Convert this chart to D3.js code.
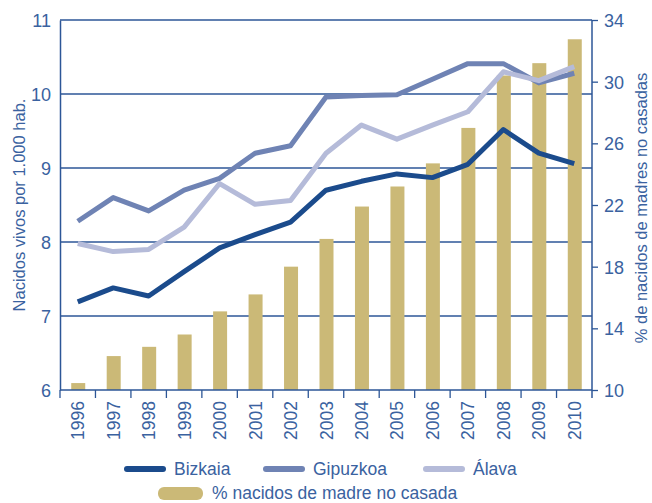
<!DOCTYPE html>
<html>
<head>
<meta charset="utf-8">
<script src="https://cdn.jsdelivr.net/npm/d3@7"></script>
<style>
  body { margin: 0; background: #fff; }
  text { font-family: "Liberation Sans", Arial, sans-serif; fill: #3a62a0; }
</style>
</head>
<body>
<svg id="chart" width="652" height="503"></svg>
<script>
const years = ['1996', '1997', '1998', '1999', '2000', '2001', '2002', '2003', '2004', '2005', '2006', '2007', '2008', '2009', '2010']
const bizkaia = [7.19, 7.38, 7.27, 7.6, 7.92, 8.1, 8.27, 8.7, 8.82, 8.92, 8.87, 9.05, 9.52, 9.2, 9.06]
const gipuzkoa = [8.28, 8.6, 8.42, 8.7, 8.86, 9.2, 9.3, 9.96, 9.98, 9.99, 10.2, 10.41, 10.41, 10.15, 10.28]
const alava = [7.98, 7.87, 7.9, 8.2, 8.79, 8.51, 8.56, 9.2, 9.58, 9.39, 9.58, 9.76, 10.3, 10.18, 10.37]
const noCasada = [10.45, 12.2, 12.8, 13.6, 15.1, 16.2, 18.0, 19.8, 21.9, 23.2, 24.7, 27.0, 30.4, 31.2, 32.75]
const leftTicks = [6, 7, 8, 9, 10, 11]
const rightTicks = [10, 14, 18, 22, 26, 30, 34]

const axisColor = '#2c5697'
const series = [
  { name: 'Bizkaia', values: bizkaia, color: '#1b4b8c' },
  { name: 'Gipuzkoa', values: gipuzkoa, color: '#6f83b4' },
  { name: 'Álava', values: alava, color: '#b5bbd9' }
]
const barColor = '#cbb977'

const svg = d3.select('#chart')
const m = { left: 60, right: 592, top: 20, bottom: 390 }

const x = d3.scaleBand().domain(years).range([m.left, m.right])
const yL = d3.scaleLinear().domain([6, 11]).range([m.bottom, m.top])
const yR = d3.scaleLinear().domain([10, 34]).range([m.bottom, m.top])

// gridlines
svg.append('g')
  .selectAll('line')
  .data(leftTicks.slice(1))
  .enter()
  .append('line')
  .attr('x1', m.left)
  .attr('x2', m.right)
  .attr('y1', d => yL(d))
  .attr('y2', d => yL(d))
  .style('stroke', axisColor)
  .style('stroke-width', 1.3)

// bars
const bw = 14
svg.append('g')
  .selectAll('rect')
  .data(noCasada)
  .enter()
  .append('rect')
  .attr('x', (d, i) => x(years[i]) + x.bandwidth() / 2 - bw / 2 + 0.5)
  .attr('y', d => yR(d))
  .attr('width', bw)
  .attr('height', d => yR(10) - yR(d))
  .style('fill', barColor)

// lines
const line = d3.line()
  .x((d, i) => x(years[i]) + x.bandwidth() / 2)
  .y(d => yL(d))

svg.append('g')
  .selectAll('path')
  .data(series)
  .enter()
  .append('path')
  .attr('d', d => line(d.values))
  .style('fill', 'none')
  .style('stroke', d => d.color)
  .style('stroke-width', 5)
  .style('stroke-linejoin', 'round')

// left axis
const leftAxis = svg.append('g')
  .attr('transform', `translate(${m.left},0)`)
  .call(d3.axisLeft(yL).tickValues(leftTicks).tickSize(0).tickPadding(9).tickFormat(d3.format('d')))
leftAxis.select('.domain').style('stroke', axisColor).style('stroke-width', 1.5)
leftAxis.selectAll('text').style('font-size', '18px').attr('dy', '0.36em')

// right axis
const rightAxis = svg.append('g')
  .attr('transform', `translate(${m.right},0)`)
  .call(d3.axisRight(yR).tickValues(rightTicks).tickSize(6).tickPadding(6).tickFormat(d3.format('d')))
rightAxis.select('.domain').attr('d', `M0,${m.top}V${m.bottom + 8}`).style('stroke', axisColor).style('stroke-width', 1.5)
rightAxis.selectAll('line').style('stroke', axisColor).style('stroke-width', 1.3)
rightAxis.selectAll('text').style('font-size', '18px').attr('dy', '0.36em')

// bottom axis
svg.append('line')
  .attr('x1', m.left).attr('x2', m.right)
  .attr('y1', m.bottom).attr('y2', m.bottom)
  .style('stroke', axisColor).style('stroke-width', 1.5)

svg.append('g')
  .selectAll('line')
  .data(years)
  .enter()
  .append('line')
  .attr('x1', d => x(d))
  .attr('x2', d => x(d))
  .attr('y1', m.bottom)
  .attr('y2', m.bottom + 8)
  .style('stroke', axisColor)
  .style('stroke-width', 1.3)

svg.append('g')
  .selectAll('text')
  .data(years)
  .enter()
  .append('text')
  .attr('transform', d => `translate(${x(d) + x.bandwidth() / 2 + 6.5},${m.bottom + 11}) rotate(-90)`)
  .attr('text-anchor', 'end')
  .style('font-size', '17.5px')
  .text(d => d)

// axis titles
svg.append('text')
  .attr('transform', `translate(25,${(m.top + 390) / 2}) rotate(-90)`)
  .attr('text-anchor', 'middle')
  .style('font-size', '16.5px')
  .text('Nacidos vivos por 1.000 hab.')

svg.append('text')
  .attr('transform', `translate(647,${(m.top + 390) / 2 + 3}) rotate(-90)`)
  .attr('text-anchor', 'middle')
  .style('font-size', '16.5px')
  .text('% de nacidos de madres no casadas')

// legend
const legend = svg.append('g')
const legendPos = [127, 266, 426]
series.forEach((s, i) => {
  legend.append('line')
    .attr('x1', legendPos[i]).attr('x2', legendPos[i] + 36)
    .attr('y1', 469).attr('y2', 469)
    .style('stroke', s.color)
    .style('stroke-width', 6)
    .style('stroke-linecap', 'round')
  legend.append('text')
    .attr('x', legendPos[i] + 47)
    .attr('y', 475)
    .style('font-size', '17.5px')
    .text(s.name)
})
legend.append('rect')
  .attr('x', 158).attr('y', 487)
  .attr('width', 45).attr('height', 13)
  .attr('rx', 6)
  .style('fill', barColor)
legend.append('text')
  .attr('x', 212)
  .attr('y', 499)
  .style('font-size', '17.5px')
  .text('% nacidos de madre no casada')
</script>
</body>
</html>
